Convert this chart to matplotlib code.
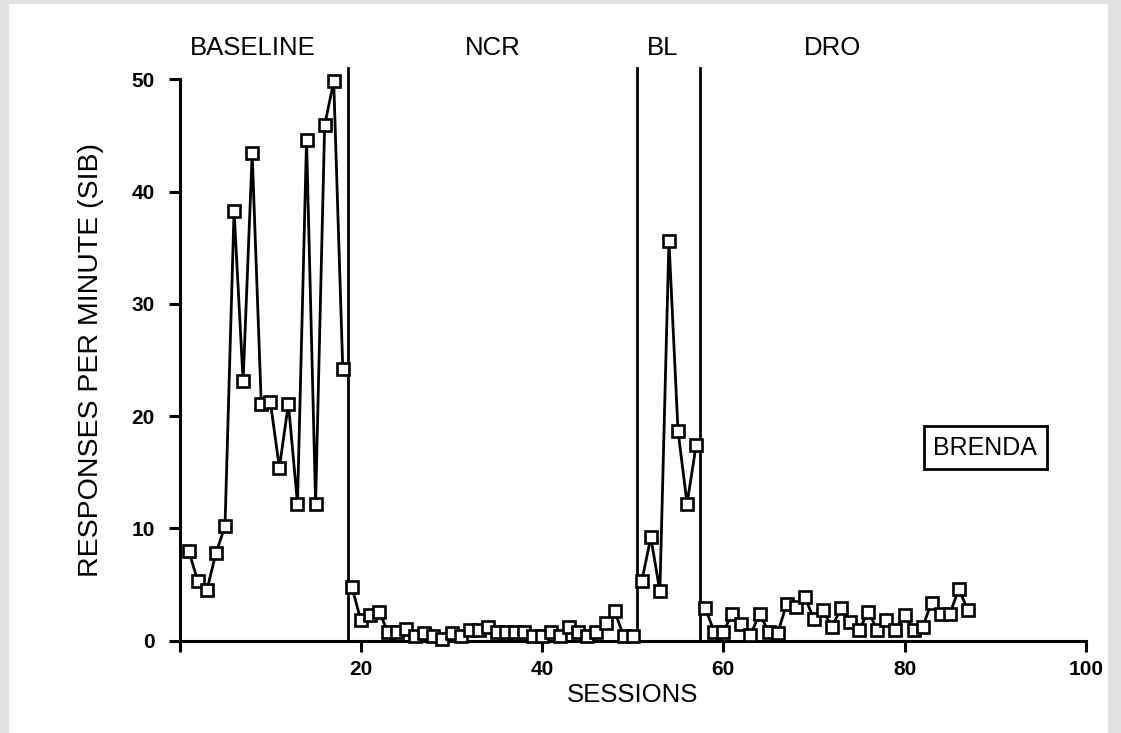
import matplotlib
matplotlib.use("Agg")
import matplotlib.pyplot as plt
from matplotlib.patches import Rectangle
import numpy as np

# ---------------- data ----------------
baseline_sessions = list(range(1, 19))
baseline_rate = [8.0, 5.3, 4.5, 7.8, 10.2, 38.3, 23.1, 43.4, 21.1, 21.3,
                 15.4, 21.1, 12.2, 44.6, 12.2, 45.9, 49.8, 24.2]

ncr_sessions = list(range(19, 51))
ncr_rate = [4.8, 1.8, 2.3, 2.6, 0.75, 0.75, 1.0, 0.4, 0.65, 0.4,
            0.15, 0.65, 0.4, 0.95, 0.95, 1.25, 0.75, 0.75, 0.75, 0.75,
            0.4, 0.4, 0.75, 0.4, 1.2, 0.75, 0.4, 0.75, 1.6, 2.65,
            0.4, 0.4]

bl_sessions = list(range(51, 58))
bl_rate = [5.3, 9.2, 4.4, 35.6, 18.7, 12.2, 17.4]

dro_sessions = list(range(58, 88))
dro_rate = [2.9, 0.8, 0.8, 2.4, 1.5, 0.5, 2.4, 0.8, 0.65, 3.3,
            3.0, 3.9, 1.9, 2.7, 1.2, 2.9, 1.7, 0.95, 2.6, 0.95,
            1.8, 0.95, 2.3, 0.95, 1.25, 3.4, 2.4, 2.4, 4.6, 2.7]

phase_changes = [18.6, 50.45, 57.4]
phase_names = ["BASELINE", "NCR", "BL", "DRO"]
phase_label_x = [8.1, 34.6, 53.3, 72.0]

x_ticks = [0, 20, 40, 60, 80, 100]
x_ticklabels = ["", "20", "40", "60", "80", "100"]
y_ticks = [0, 10, 20, 30, 40, 50]
y_ticklabels = ["0", "10", "20", "30", "40", "50"]

participant = "BRENDA"

# ---------------- figure ----------------
W, H = 1121, 733
fig = plt.figure(figsize=(W / 100, H / 100), dpi=100)
fig.patch.set_facecolor("#e2e2e2")
bg = Rectangle((9 / W, 0), (1108 - 9) / W, (H - 4) / H,
               transform=fig.transFigure, facecolor="white",
               edgecolor="none", zorder=-10)
fig.patches.append(bg)

font = "Liberation Sans"
plt.rcParams["font.family"] = [font, "DejaVu Sans"]

ax = fig.add_axes([179.7 / W, (H - 640.7) / H, (1085.7 - 179.7) / W, (640.7 - 79.2) / H])
ax.set_zorder(1)
ax.set_facecolor("none")
ax.set_xlim(0, 100)
ax.set_ylim(0, 50)

for s, r in [(baseline_sessions, baseline_rate), (ncr_sessions, ncr_rate),
             (bl_sessions, bl_rate), (dro_sessions, dro_rate)]:
    ax.plot(s, r, color="black", lw=2.0, marker="s", markersize=8,
            markerfacecolor="white", markeredgecolor="black",
            markeredgewidth=1.9, clip_on=False, zorder=3)

for xc in phase_changes:
    ax.plot([xc, xc], [0, 51.0], color="black", lw=2.0, clip_on=False, zorder=2)

for name, xl in zip(phase_names, phase_label_x):
    ax.text(xl, 52.8, name, ha="center", va="center", fontsize=18.5,
            family=font)

ax.text(88.9, 17.2, participant, ha="center", va="center", fontsize=18,
        family=font,
        bbox=dict(boxstyle="square,pad=0.38", facecolor="white",
                  edgecolor="black", linewidth=2.0))

for sp in ["top", "right"]:
    ax.spines[sp].set_visible(False)
for sp in ["left", "bottom"]:
    ax.spines[sp].set_linewidth(2.2)

ax.set_xticks(x_ticks)
ax.set_xticklabels(x_ticklabels, fontsize=15, fontweight="bold", family=font)
ax.set_yticks(y_ticks)
ax.set_yticklabels(y_ticklabels, fontsize=15, fontweight="bold", family=font)
ax.tick_params(axis="both", direction="out", length=8, width=2.2)
ax.tick_params(axis="x", pad=6)
ax.tick_params(axis="y", pad=10)

ax.set_xlabel("SESSIONS", fontsize=18.5, family=font, labelpad=3)
ax.set_ylabel("RESPONSES PER MINUTE (SIB)", fontsize=20.5, family=font, labelpad=20)

fig.savefig("out.png", dpi=100, facecolor=fig.get_facecolor())
